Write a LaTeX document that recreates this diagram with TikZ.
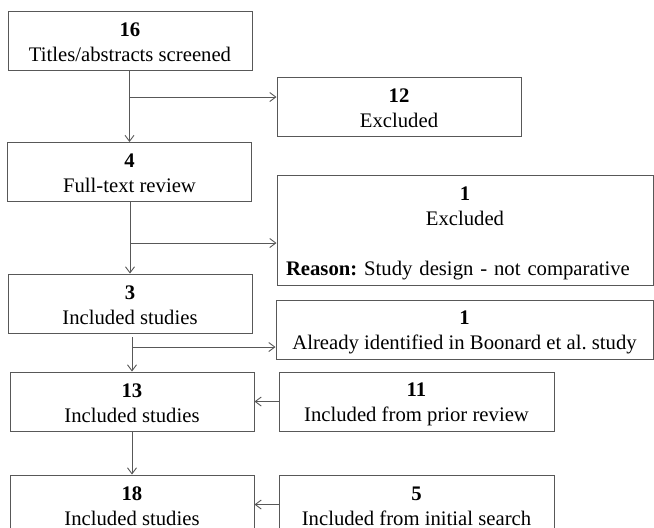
\documentclass[tikz,border=0pt]{standalone}
\usepackage{fontspec}
\setmainfont{Liberation Serif}
\usetikzlibrary{arrows.meta}
\definecolor{linec}{RGB}{88,88,88}
\newcommand\topstrut{\rule{0pt}{20pt}}
\newcommand\botstrut{\rule[-4pt]{0pt}{4pt}}
\frenchspacing
\begin{document}
\begin{tikzpicture}[x=1pt,y=-1pt,
  box/.style={draw=linec, line width=1pt, rectangle, inner sep=0pt, align=center,
    font=\fontsize{20.7}{25}\selectfont\frenchspacing, minimum height=59pt},
  conn/.style={draw=linec, line width=0.9pt, -{Straight Barb[length=6pt,width=9pt]}}]
\useasboundingbox (0,0) rectangle (654,528);
% left column
\node[box, minimum width=244pt] (b1) at (130,40.5) {\topstrut\textbf{16}\\Titles/abstracts screened\botstrut};
\node[box, minimum width=244pt] (b4) at (129.5,172) {\topstrut\textbf{4}\\Full-text review\botstrut};
\node[box, minimum width=244pt] (b3) at (130,303.5) {\topstrut\textbf{3}\\Included studies\botstrut};
\node[box, minimum width=244pt] (b13) at (132,401.5) {\topstrut\textbf{13}\\Included studies\botstrut};
\node[box, minimum width=244pt] (b18) at (132,504.5) {\topstrut\textbf{18}\\Included studies\botstrut};
% right column
\node[box, minimum width=244pt] (x12) at (399,106.5) {\topstrut\textbf{12}\\Excluded\botstrut};
\node[box, minimum height=110pt, text width=358pt, inner xsep=9pt] (x1) at (465,230)
  {\topstrut\textbf{1}\\Excluded\\[25pt]\makebox[\linewidth][l]{\textbf{Reason:}\ Study design - not comparative}\botstrut};
\node[box, minimum width=377pt] (a1) at (464.5,329.5) {\topstrut\textbf{1}\\Already identified in Boonard et al.\ study\botstrut};
\node[box, minimum width=275pt] (p11) at (416.5,401.5) {\topstrut\textbf{11}\\Included from prior review\botstrut};
\node[box, minimum width=275pt] (p5) at (416.5,504.5) {\topstrut\textbf{5}\\Included from initial search\botstrut};
% junctions
\coordinate (j1) at (129.5,97);
\coordinate (j2) at (130,243);
\coordinate (s3) at (132,337);
\coordinate (j3) at (132,347);
% connectors
\draw[conn] (b1.south -| b4.north) -- (b4.north);
\draw[conn] (j1) -- (j1 -| x12.west);
\draw[conn] (b4.south -| b3.north) -- (b3.north);
\draw[conn] (j2) -- (j2 -| x1.west);
\draw[conn] (s3) -- (s3 |- b13.north);
\draw[conn] (j3) -- (j3 -| a1.west);
\draw[conn] (p11.west) -- (p11.west -| b13.east);
\draw[conn] (b13.south) -- (b18.north);
\draw[conn] (p5.west) -- (p5.west -| b18.east);
\end{tikzpicture}
\end{document}
